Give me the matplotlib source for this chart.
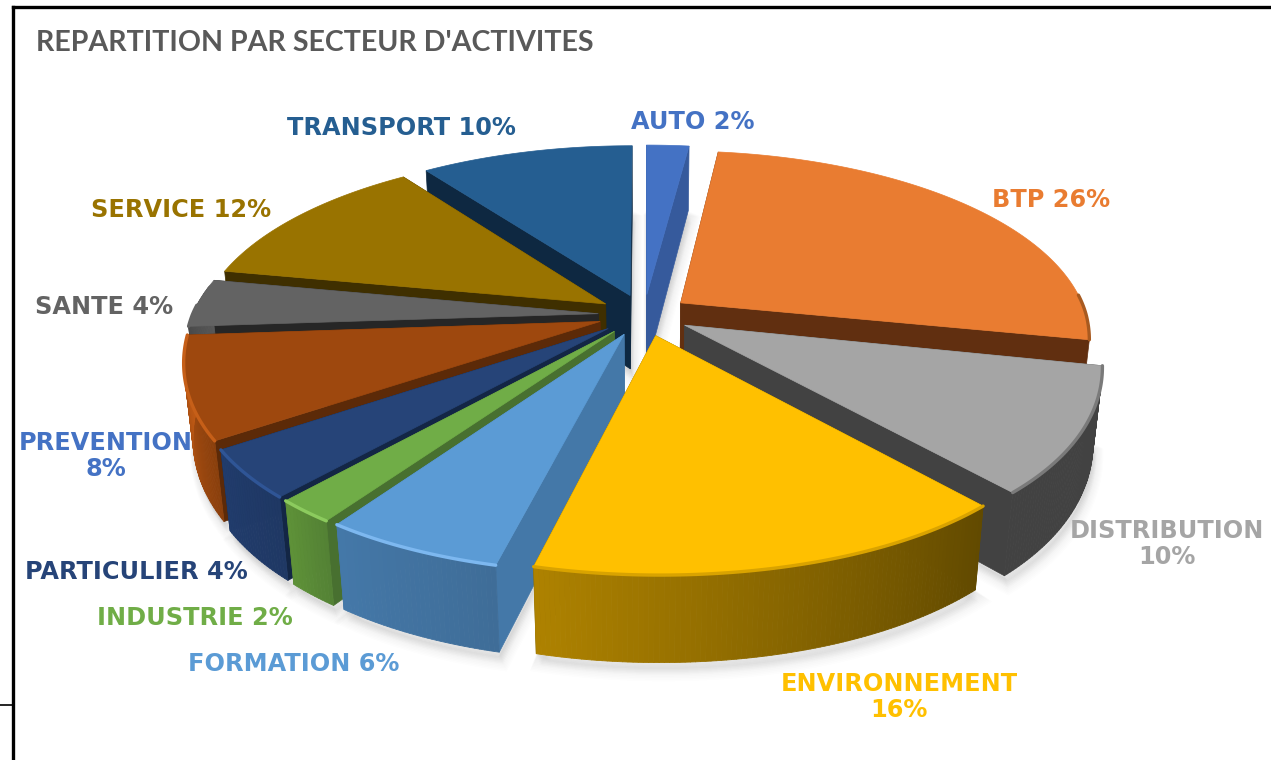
import matplotlib
matplotlib.use('Agg')
import matplotlib.pyplot as plt
from matplotlib.collections import PolyCollection
from matplotlib.colors import to_rgb
from matplotlib.lines import Line2D
import numpy as np

sectors = ['AUTO', 'BTP', 'DISTRIBUTION', 'ENVIRONNEMENT', 'FORMATION', 'INDUSTRIE',
           'PARTICULIER', 'PREVENTION', 'SANTE', 'SERVICE', 'TRANSPORT']
shares = [2, 26, 10, 16, 6, 2, 4, 8, 4, 12, 10]
title = "REPARTITION PAR SECTEUR D'ACTIVITES"

top_colors = ['#4472C4', '#E97C31', '#A5A5A5', '#FFC000', '#5B9BD5', '#70AD47',
              '#264478', '#9E480E', '#636363', '#997300', '#255E91']
label_colors = ['#4472C4', '#E97C31', '#A5A5A5', '#FFC000', '#5B9BD5', '#70AD47',
                '#264478', '#4472C4', '#636363', '#997300', '#255E91']
cut_colors = ['#365A9C', '#612F10', '#424242', '#665000', '#4478A8', '#487030',
              '#132645', '#5C2A08', '#262626', '#3F2F00', '#0E2841']
# wall colour at the start and at the end of each slice (clockwise)
wall_start = ['#365A9C', '#A85A20', '#424242', '#624A00', '#3F6D98', '#548235',
              '#1F3864', '#8A3F0C', '#4A4A4A', '#6B5000', '#1A4468']
wall_end = ['#365A9C', '#A85A20', '#424242', '#AE8200', '#4478A8', '#5E9138',
            '#213C6C', '#C05A15', '#5A5A5A', '#6B5000', '#1A4468']
bevel_colors = ['#4472C4', '#A85A20', '#7A7A7A', '#D9A300', '#7DB8F0', '#8CCB5E',
                '#2F5596', '#C65F18', '#636363', '#997300', '#255E91']

# label centres in pixels
label_x = [693, 1051, 1167, 899, 294, 195, 136, 106, 104, 181, 401]
label_y = [122, 200, 544, 697, 664, 618, 572, 456, 307, 210, 128]
label_break = [False, False, True, True, False, False, False, True, False, False, False]

# view of the pie
CX, CY = 644, 315
A, B, H = 406, 185, 76
P, PX, Q = 0.19, 0.175, 0.02
WARP = 0.07
EXPLODE = 0.113


def project(xs, ys, z=0.0):
    xs, ys = np.asarray(xs), np.asarray(ys)
    wy = 1 + P * ys + Q * z
    wx = 1 + PX * ys + Q * z
    ys = np.where(ys < 0, ys * (1 + WARP * xs ** 2), ys)
    return np.column_stack([CX + A * xs / wx, CY + (-B * ys + H * z) / wy])


def mix(c1, c2, t):
    return tuple((1 - t) * a + t * b for a, b in zip(to_rgb(c1), to_rgb(c2)))


fig = plt.figure(figsize=(12.71, 7.6), dpi=100)
ax = fig.add_axes([0, 0, 1, 1])
ax.set_xlim(0, 1271)
ax.set_ylim(760, 0)
ax.axis('off')

edges = np.cumsum([0] + shares) / sum(shares) * 2 * np.pi
slices = []
for i in range(len(shares)):
    mid = (edges[i] + edges[i + 1]) / 2
    ox, oy = EXPLODE * np.sin(mid), EXPLODE * np.cos(mid)
    th = np.linspace(edges[i], edges[i + 1], max(6, shares[i] * 6))
    slices.append((i, th, ox, oy, np.cos(mid)))

# soft shadow below the pie
for i, th, ox, oy, _ in slices:
    xs = np.r_[ox, ox + np.sin(th)]
    ys = np.r_[oy, oy + np.cos(th)]
    low = project(xs, ys, 1.0)
    for off in range(1, 13):
        ax.fill(low[:, 0] + off * 0.3, low[:, 1] + off, color='#7F7F7F', alpha=0.012, lw=off * 0.8, zorder=1)

# back slices first, so that the front ones hide them
z = 2
for i, th, ox, oy, _ in sorted(slices, key=lambda s: -s[4]):
    for edge in (th[0], th[-1]):
        xs = np.array([ox, ox + np.sin(edge)])
        ys = np.array([oy, oy + np.cos(edge)])
        quad = np.vstack([project(xs, ys, 0.0), project(xs[::-1], ys[::-1], 1.0)])
        ax.fill(quad[:, 0], quad[:, 1], color=cut_colors[i], lw=0.5, zorder=z)
    xs, ys = ox + np.sin(th), oy + np.cos(th)
    up, down = project(xs, ys, 0.0), project(xs, ys, 1.0)
    quads, cols = [], []
    for k in range(len(th) - 1):
        c = np.cos(th[k:k + 2]).mean()
        s = np.sin(th[k:k + 2]).mean()
        # walls facing away from the viewer stay hidden
        if c < (-0.19 if s > 0 else 0.15):
            quads.append([up[k], up[k + 1], down[k + 1], down[k]])
            cols.append(mix(wall_start[i], wall_end[i], k / (len(th) - 2)))
    if quads:
        ax.add_collection(PolyCollection(quads, facecolors=cols, edgecolors=cols, linewidths=0.6, zorder=z))
    face = np.vstack([project([ox], [oy], 0.0), up])
    ax.fill(face[:, 0], face[:, 1], color=top_colors[i], lw=0.5, zorder=z)
    front = np.cos(th) < 0.05
    if front.any():
        ax.plot(up[front, 0], up[front, 1], color=bevel_colors[i], lw=2.4, solid_capstyle='round', zorder=z)
    z += 1

for i, name in enumerate(sectors):
    sep = '\n' if label_break[i] else ' '
    ax.text(label_x[i], label_y[i], f'{name}{sep}{shares[i]}%', color=label_colors[i], fontsize=17.3,
            fontweight='bold', family='DejaVu Sans', ha='center', va='center', linespacing=1.1, zorder=50)

ax.text(36, 43, title, color='#595959', fontsize=20.6, fontweight='bold', family='Lato',
        ha='left', va='center', zorder=50)

# frame around the chart
for xs, ys, lw in [([13, 13], [7, 760], 2.4), ([13, 1271], [7, 7], 2.4), ([0, 13], [705, 705], 1.2)]:
    ax.add_line(Line2D(xs, ys, color='black', lw=lw, zorder=60))

fig.savefig('out.png', dpi=100)
